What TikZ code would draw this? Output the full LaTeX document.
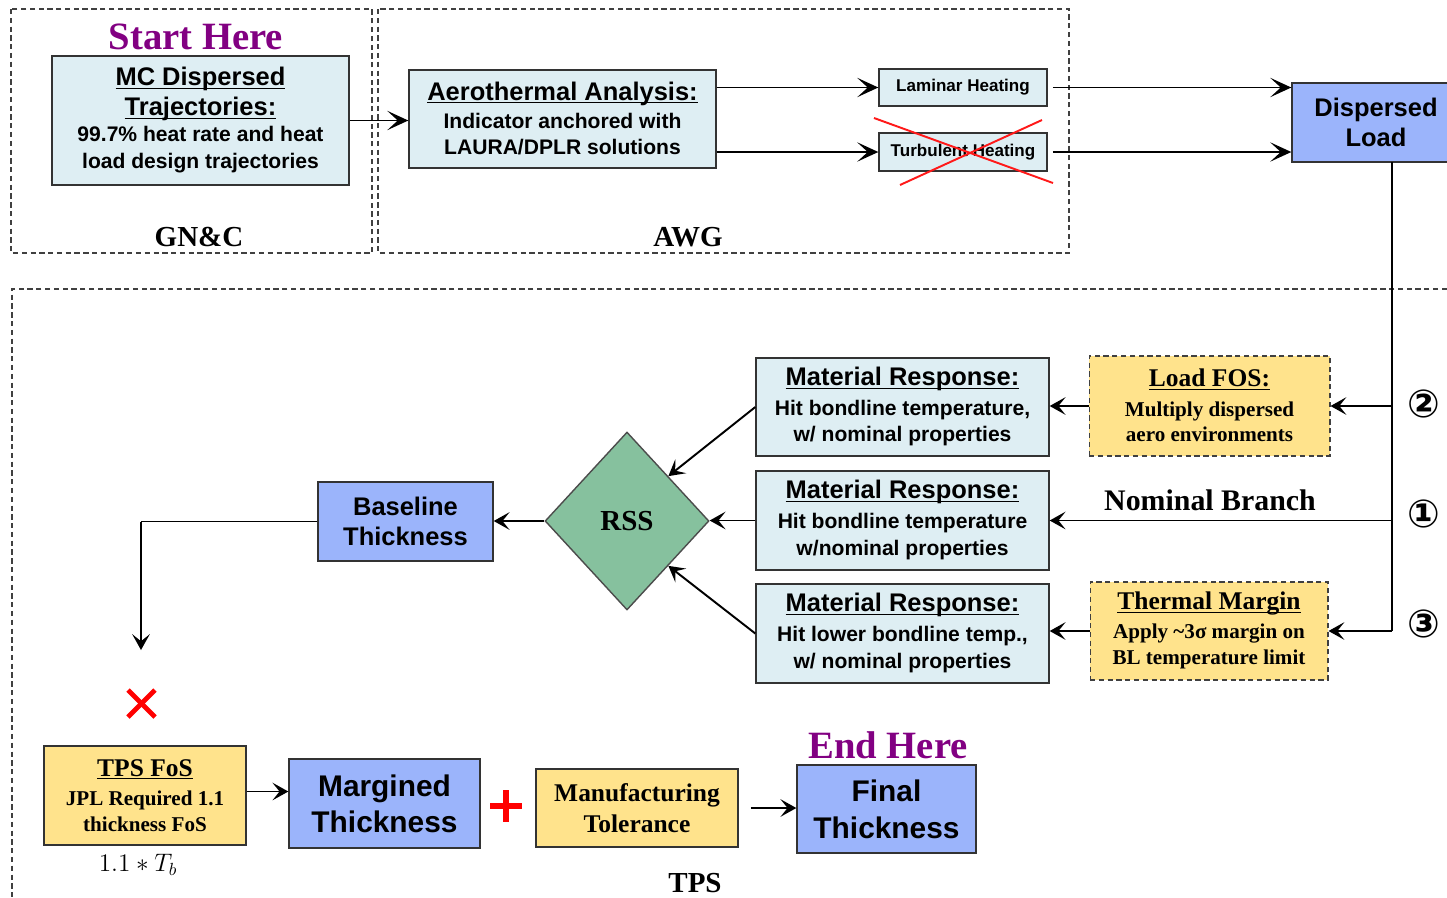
\documentclass[tikz,border=0pt]{standalone}
\usepackage{fontspec}
\setmainfont{Liberation Serif}
\setsansfont{Liberation Sans}
\newfontfamily\circfont{DejaVu Sans}
\usetikzlibrary{arrows.meta,shapes.geometric}

\definecolor{paleblue}{HTML}{DEEEF3}
\definecolor{thickblue}{HTML}{9BB4FB}
\definecolor{fosyellow}{HTML}{FFE38C}
\definecolor{rssgreen}{HTML}{86C19E}
\definecolor{herepurple}{HTML}{820082}
\newcommand{\fsz}[2]{\fontsize{#1}{#2}\selectfont}
\newcommand{\ttl}[1]{{\fsz{14.5}{17}\underline{\smash{#1}}\vphantom{A}}}

\begin{document}
\begin{tikzpicture}[x=0.02cm,y=-0.02cm,
  box/.style={draw=black!80,line width=0.8pt,align=center,inner sep=0pt},
  infobox/.style={box,fill=paleblue,font=\sffamily\bfseries\fsz{12}{15}},
  thkbox/.style={box,fill=thickblue,font=\sffamily\bfseries\fsz{14.5}{17}},
  fosbox/.style={box,fill=fosyellow,font=\rmfamily\bfseries\fsz{12}{14.7}},
  group/.style={dashed,dash pattern=on 3pt off 2pt,draw=black!75,line width=0.6pt},
  conn/.style={line width=1.1pt,-{Stealth[length=9pt,width=10pt,inset=4pt]}},
  bigconn/.style={line width=1.1pt,-{Stealth[length=12pt,width=11pt,inset=6pt]}},
  grouplabel/.style={font=\rmfamily\bfseries\fsz{16.5}{18}},
  herelabel/.style={font=\rmfamily\bfseries\fsz{22}{24},text=herepurple},
  circnum/.style={font=\circfont\bfseries\fsz{22}{22}}]
\useasboundingbox (0,0) rectangle (1447,897);

% group frames
\draw[group] (11,9) rectangle (372,253);
\draw[group] (378,9) rectangle (1069,253);
\draw[group] (1447,289) -- (12,289) -- (12,897);

\node[grouplabel] (gnc) at (199,237) {GN\&C};
\node[grouplabel] (awg) at (688,237) {AWG};
\node[grouplabel] (tps) at (695,883) {TPS};

% trajectories and aerothermal
\node[herelabel] (start) at (196,37) {Start Here};
\node[infobox,minimum width=5.94cm,minimum height=2.58cm] (mc) at (200.5,120.5)
  {\ttl{MC Dispersed}\\[2pt]\ttl{Trajectories:}\\[0pt]
   99.7\% heat rate and heat\\load design trajectories};
\node[infobox,minimum width=6.14cm,minimum height=1.96cm] (aero) at (562.5,119)
  {\ttl{Aerothermal Analysis:}\\[1pt]Indicator anchored with\\LAURA/DPLR solutions};
\node[infobox,font=\sffamily\bfseries\fsz{9.7}{11},minimum width=3.36cm,minimum height=0.74cm] (lam) at (963,87.5) {Laminar Heating};
\node[infobox,font=\sffamily\bfseries\fsz{9.7}{11},minimum width=3.36cm,minimum height=0.76cm] (turb) at (963,152) {Turbulent Heating};
\draw[red!90,line width=1.1pt] (874,118) -- (1053,183);
\draw[red!90,line width=1.1pt] (900,185) -- (1042,120);
\node[thkbox,minimum width=3.16cm,minimum height=1.58cm] (disp) at (1371,122.5) {\hspace*{0.2cm}Dispersed\\\hspace*{0.2cm}Load};

\draw[bigconn] (mc.east) -- (mc.east -| aero.west);
\draw[bigconn] (aero.east |- lam.west) -- (lam.west);
\draw[bigconn] (aero.east |- turb.west) -- (turb.west);
\draw[bigconn,shorten <=3pt] (lam.east) -- (lam.east -| disp.west);
\draw[bigconn,shorten <=3pt] (turb.east) -- (turb.east -| disp.west);

% branches
\node[fosbox,group,fill=fosyellow,minimum width=4.82cm,minimum height=2.0cm] (lfos) at (1209.5,406)
  {\ttl{Load FOS:}\\[2pt]Multiply dispersed\\aero environments};
\node[fosbox,group,fill=fosyellow,minimum width=4.76cm,minimum height=1.96cm] (tmarg) at (1209,631)
  {\ttl{Thermal Margin}\\[2pt]Apply \textasciitilde3σ margin on\\BL temperature limit};
\node[infobox,minimum width=5.86cm,minimum height=1.96cm] (mr1) at (902.5,407)
  {\ttl{Material Response:}\\[2pt]Hit bondline temperature,\\w/ nominal properties};
\node[infobox,minimum width=5.86cm,minimum height=1.98cm] (mr2) at (902.5,520.5)
  {\ttl{Material Response:}\\[2pt]Hit bondline temperature\\w/nominal properties};
\node[infobox,minimum width=5.86cm,minimum height=1.98cm] (mr3) at (902.5,633.5)
  {\ttl{Material Response:}\\[2pt]Hit lower bondline temp.,\\w/ nominal properties};

\coordinate (trunk) at (1392,162);
\draw[line width=1.1pt] (trunk) -- (trunk |- tmarg.east);
\draw[conn] (trunk |- lfos.east) -- (lfos.east);
\draw[conn] (trunk |- mr2.east) -- (mr2.east);
\draw[conn] (trunk |- tmarg.east) -- (tmarg.east);
\draw[conn] (lfos.west) -- (lfos.west -| mr1.east);
\draw[conn] (tmarg.west) -- (tmarg.west -| mr3.east);
\node[font=\rmfamily\bfseries\fsz{17}{19}] (nom) at (1210,500) {Nominal Branch};

\node[circnum] (n2) at (1424,404) {②};
\node[circnum] (n1) at (1424,514) {①};
\node[circnum] (n3) at (1424,624) {③};

% RSS and baseline
\node[diamond,draw=black!70,line width=0.8pt,fill=rssgreen,inner sep=0pt,minimum width=3.28cm,minimum height=3.56cm,
  font=\rmfamily\bfseries\fsz{16.5}{18}] (rss) at (627,521) {RSS};
\draw[conn] (mr1.west) -- (rss.north east);
\draw[conn] (mr2.west) -- (mr2.west -| rss.east);
\draw[conn] (mr3.west) -- (rss.south east);
\node[thkbox,minimum width=3.5cm,minimum height=1.58cm] (base) at (405.5,521.5) {Baseline\\Thickness};
\draw[conn] (rss.west) -- (rss.west -| base.east);

\coordinate (corner) at (141,521.5);
\coordinate (drop) at (141,650);
\draw[line width=1.1pt] (base.west) -- (corner);
\draw[conn] (corner) -- (drop);
\draw[red,line width=2.8pt] (128,690) -- (155,717);
\draw[red,line width=2.8pt] (128,717) -- (155,690);

% final thickness chain
\node[fosbox,minimum width=4.04cm,minimum height=1.98cm] (tfos) at (145,795.5)
  {\ttl{TPS FoS}\\[2pt]JPL Required 1.1\\thickness FoS};
\node[font=\fsz{14}{16}] (tb) at (138,865) {$1.1*T_b$};
\node[thkbox,font=\sffamily\bfseries\fsz{17}{20.5},minimum width=3.82cm,minimum height=1.78cm] (marg) at (384.5,803.5) {Margined\\Thickness};
\draw[conn] ([yshift=0.08cm]tfos.east) -- ([yshift=0.08cm]tfos.east -| marg.west);
\draw[red,line width=3.4pt] (490,806) -- (522,806);
\draw[red,line width=3.4pt] (506,790) -- (506,822);
\node[fosbox,font=\rmfamily\bfseries\fsz{14.5}{17.6},minimum width=4.04cm,minimum height=1.56cm] (manuf) at (637,808) {Manufacturing\\Tolerance};
\node[thkbox,font=\sffamily\bfseries\fsz{17}{21},minimum width=3.58cm,minimum height=1.76cm] (final) at (886.5,809) {Final\\Thickness};
\node[herelabel] (end) at (888,745) {End Here};
\draw[conn,shorten <=7pt] (manuf.east) -- (manuf.east -| final.west);
\end{tikzpicture}
\end{document}
